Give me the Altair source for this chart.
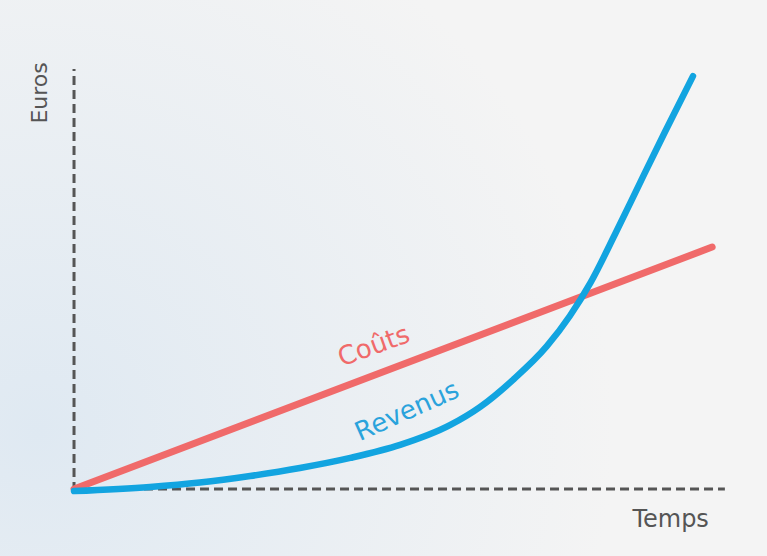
import altair as alt
import pandas as pd

# Data (arbitrary units: time 0..10, euros 0..100)
cost_t = [0, 10]
cost_e = [0, 57.6]

rev_t = [0, 1.19, 1.97, 2.76, 3.54, 4.33, 5.11, 5.89, 6.36, 6.88, 7.41, 7.77, 8.09, 8.48, 8.87, 9.26, 9.7]
rev_e = [-0.5, 0.5, 1.55, 3.1, 5.0, 7.4, 10.5, 15.2, 19.5, 26.0, 34.0, 41.2, 49.0, 60.7, 72.9, 85.0, 98.3]

axis_x_t = [0, 10.2]
axis_y_e = [-0.5, 100]

label_text = ["Coûts", "Revenus"]
label_t = [4.7, 5.22]
label_e = [34, 18.5]
label_angle = [340, 336]
label_color = ["#f06a6a", "#2aa3dc"]

W, H = 767, 556
xs = alt.Scale(domain=[-1.16, 10.86], nice=False, zero=False)
ys = alt.Scale(domain=[-15.95, 116.43], nice=False, zero=False)

cost_df = pd.DataFrame({"t": cost_t, "e": cost_e})
rev_df = pd.DataFrame({"t": rev_t, "e": rev_e})

bg = alt.Chart(pd.DataFrame({"a": [0]})).mark_rect(
    color=alt.Gradient(
        gradient="radial",
        x1=0.05, y1=0.7, r1=0,
        x2=0.05, y2=0.7, r2=0.75,
        stops=[
            alt.GradientStop(offset=0, color="#dfe9f2"),
            alt.GradientStop(offset=1, color="#f4f4f4"),
        ],
    )
).encode(x=alt.value(0), x2=alt.value(W), y=alt.value(0), y2=alt.value(H))

hx = alt.Chart(pd.DataFrame({"t": [axis_x_t[0]], "t2": [axis_x_t[1]], "e": [0]})).mark_rule(
    color="#555555", strokeWidth=3, strokeDash=[9, 5]
).encode(x=alt.X("t:Q", scale=xs, axis=None), x2="t2:Q", y=alt.Y("e:Q", scale=ys, axis=None))

vy = alt.Chart(pd.DataFrame({"t": [0], "e": [axis_y_e[0]], "e2": [axis_y_e[1]]})).mark_rule(
    color="#555555", strokeWidth=3, strokeDash=[9, 5]
).encode(x=alt.X("t:Q", scale=xs, axis=None), y=alt.Y("e:Q", scale=ys, axis=None), y2="e2:Q")

cost = alt.Chart(cost_df).mark_line(color="#f06a6a", strokeWidth=7, strokeCap="round").encode(
    x=alt.X("t:Q", scale=xs, axis=None), y=alt.Y("e:Q", scale=ys, axis=None)
)

rev = alt.Chart(rev_df).mark_line(
    color="#12a4e0", strokeWidth=6.5, strokeCap="round", interpolate="monotone"
).encode(x=alt.X("t:Q", scale=xs, axis=None), y=alt.Y("e:Q", scale=ys, axis=None))

labels_df = pd.DataFrame({"txt": label_text, "t": label_t, "e": label_e,
                          "ang": label_angle, "col": label_color})
labels = alt.Chart(labels_df).mark_text(
    font="DejaVu Sans", fontSize=26, align="center", baseline="middle"
).encode(
    x=alt.X("t:Q", scale=xs, axis=None), y=alt.Y("e:Q", scale=ys, axis=None),
    text="txt:N", angle=alt.Angle("ang:Q", scale=None), color=alt.Color("col:N", scale=None)
)

euros = alt.Chart(pd.DataFrame({"t": [-0.53], "e": [94.3], "txt": ["Euros"]})).mark_text(
    font="DejaVu Sans", fontSize=22, angle=270, color="#555555", align="center", baseline="middle"
).encode(x=alt.X("t:Q", scale=xs, axis=None), y=alt.Y("e:Q", scale=ys, axis=None), text="txt:N")

temps = alt.Chart(pd.DataFrame({"t": [9.35], "e": [-7.4], "txt": ["Temps"]})).mark_text(
    font="DejaVu Sans", fontSize=24, color="#555555", align="center", baseline="middle"
).encode(x=alt.X("t:Q", scale=xs, axis=None), y=alt.Y("e:Q", scale=ys, axis=None), text="txt:N")

chart = alt.layer(bg, hx, vy, cost, rev, labels, euros, temps).properties(
    width=W, height=H, padding=0, autosize=alt.AutoSizeParams(type="none"),
    background="#f4f4f4"
).configure_view(stroke=None)

chart.save("out.html", embed_options={"renderer": "svg", "actions": False})
